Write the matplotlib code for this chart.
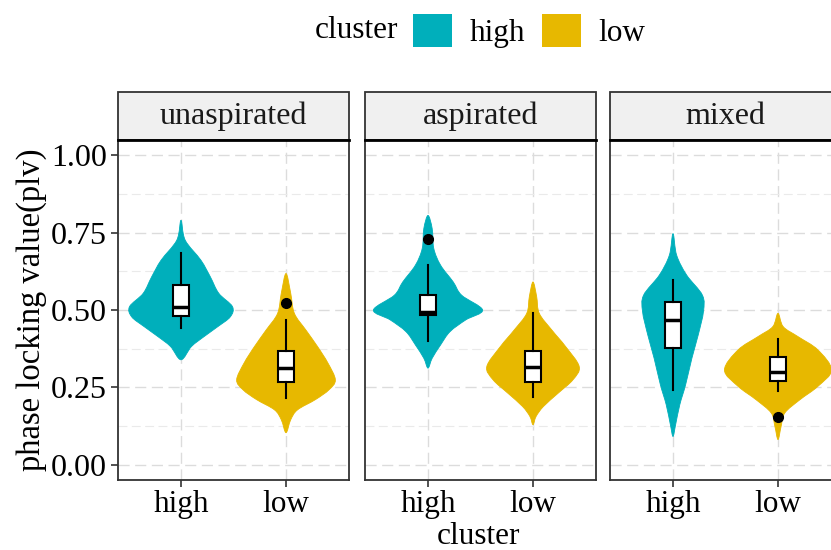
import matplotlib.pyplot as plt
from matplotlib.patches import Patch, Rectangle, PathPatch
from matplotlib.path import Path
import numpy as np

plt.rcParams['font.family'] = ['Liberation Serif', 'DejaVu Serif']

facets = ['unaspirated', 'aspirated', 'mixed']
clusters = ['high', 'low']
cluster_colors = ['#00AFBB', '#E7B800']
y_ticks = [0.0, 0.25, 0.5, 0.75, 1.0]
y_tick_labels = ['0.00', '0.25', '0.50', '0.75', '1.00']

# violin outlines: plv level and half width of the density at that level
unasp_high_y = [0.790, 0.726, 0.661, 0.607, 0.554, 0.511, 0.478, 0.446, 0.414, 0.382, 0.339]
unasp_high_w = [0.0, 0.04, 0.19, 0.28, 0.36, 0.49, 0.47, 0.35, 0.22, 0.10, 0.0]
unasp_low_y = [0.618, 0.554, 0.489, 0.435, 0.382, 0.328, 0.274, 0.242, 0.210, 0.177, 0.145, 0.103]
unasp_low_w = [0.0, 0.045, 0.08, 0.19, 0.30, 0.40, 0.47, 0.41, 0.28, 0.11, 0.045, 0.0]
asp_high_y = [0.806, 0.763, 0.699, 0.645, 0.591, 0.548, 0.500, 0.468, 0.430, 0.387, 0.344, 0.312]
asp_high_w = [0.0, 0.04, 0.055, 0.12, 0.24, 0.32, 0.52, 0.36, 0.21, 0.12, 0.04, 0.0]
asp_low_y = [0.591, 0.543, 0.489, 0.435, 0.382, 0.317, 0.274, 0.231, 0.188, 0.156, 0.129]
asp_low_w = [0.0, 0.035, 0.06, 0.18, 0.31, 0.44, 0.38, 0.24, 0.10, 0.03, 0.0]
mixed_high_y = [0.747, 0.677, 0.613, 0.548, 0.495, 0.419, 0.344, 0.258, 0.194, 0.129, 0.091]
mixed_high_w = [0.0, 0.035, 0.13, 0.28, 0.29, 0.24, 0.18, 0.12, 0.065, 0.025, 0.0]
mixed_low_y = [0.489, 0.446, 0.414, 0.371, 0.306, 0.253, 0.210, 0.167, 0.124, 0.081]
mixed_low_w = [0.0, 0.05, 0.19, 0.38, 0.51, 0.38, 0.21, 0.065, 0.03, 0.0]

# boxplot summaries: lower whisker, q1, median, q3, upper whisker, outliers
unasp_box = [[0.441, 0.481, 0.509, 0.580, 0.685, []],
             [0.216, 0.266, 0.312, 0.366, 0.468, [0.522]]]
asp_box = [[0.399, 0.484, 0.495, 0.548, 0.645, [0.731]],
           [0.220, 0.266, 0.317, 0.366, 0.489, []]]
mixed_box = [[0.242, 0.377, 0.468, 0.527, 0.597, []],
             [0.237, 0.271, 0.301, 0.347, 0.405, [0.153]]]

violins = [[(unasp_high_y, unasp_high_w), (unasp_low_y, unasp_low_w)],
           [(asp_high_y, asp_high_w), (asp_low_y, asp_low_w)],
           [(mixed_high_y, mixed_high_w), (mixed_low_y, mixed_low_w)]]
boxes = [unasp_box, asp_box, mixed_box]


def violin_path(pos, ys, ws):
    # closed outline through the given points, drawn with smooth bezier segments
    pts = [(pos + w, y) for y, w in zip(ys, ws)]
    pts += [(pos - w, y) for y, w in zip(ys[::-1][1:-1], ws[::-1][1:-1])]
    pts = np.array(pts)
    n = len(pts)
    verts = [pts[0]]
    codes = [Path.MOVETO]
    for k in range(n):
        p0, p1, p2, p3 = pts[(k - 1) % n], pts[k], pts[(k + 1) % n], pts[(k + 2) % n]
        verts += [p1 + (p2 - p0) / 6, p2 - (p3 - p1) / 6, p2]
        codes += [Path.CURVE4] * 3
    return Path(verts, codes)


W, H = 831, 550
fig = plt.figure(figsize=(W / 100, H / 100), dpi=100)

panel_left = [118, 365, 610]
panel_w, panel_bottom, panel_h = 231, 70, 340
strip_h = 48

for i, facet in enumerate(facets):
    ax = fig.add_axes([panel_left[i] / W, panel_bottom / H, panel_w / W, panel_h / H])

    # violins
    for j, (ys, ws) in enumerate(violins[i]):
        ax.add_patch(PathPatch(violin_path(j + 1, ys, ws), facecolor=cluster_colors[j],
                               edgecolor=cluster_colors[j], linewidth=0.6, zorder=2))

    # boxplots on top
    stats = []
    for b in boxes[i]:
        stats.append({'whislo': b[0], 'q1': b[1], 'med': b[2], 'q3': b[3],
                      'whishi': b[4], 'fliers': b[5]})
    ax.bxp(stats, positions=[1, 2], widths=0.15, patch_artist=True, showcaps=False,
           boxprops=dict(facecolor='white', edgecolor='black', linewidth=1.5),
           medianprops=dict(color='black', linewidth=2.5),
           whiskerprops=dict(color='black', linewidth=1.5),
           flierprops=dict(marker='o', markerfacecolor='black', markeredgecolor='black',
                           markersize=7),
           zorder=3)

    ax.set_xlim(0.4, 2.6)
    ax.set_ylim(-0.05, 1.05)
    ax.set_xticks([1, 2])
    ax.set_xticklabels(clusters)
    ax.set_yticks(y_ticks)
    ax.set_yticks([0.125, 0.375, 0.625, 0.875], minor=True)
    ax.grid(which='major', linestyle=(0, (8, 4)), color='#DCDCDC', linewidth=1, zorder=0)
    ax.grid(which='minor', axis='y', linestyle=(0, (8, 4)), color='#EAEAEA', linewidth=0.8, zorder=0)
    ax.set_axisbelow(True)

    ax.tick_params(axis='x', labelsize=22.5, length=5, width=1.2, color='#333333', pad=2)
    ax.tick_params(which='minor', length=0)
    if i == 0:
        ax.set_yticklabels(y_tick_labels)
        ax.tick_params(axis='y', labelsize=23, length=5, width=1.2, color='#333333', pad=3)
        ax.set_ylabel('phase locking value(plv)', fontsize=23.5, labelpad=3)
    else:
        ax.tick_params(axis='y', length=0, labelleft=False)

    for side in ['left', 'right', 'bottom']:
        ax.spines[side].set_color('#333333')
        ax.spines[side].set_linewidth(1.3)
    ax.spines['top'].set_color('black')
    ax.spines['top'].set_linewidth(2)

    # facet strip
    sh = strip_h / panel_h
    ax.add_patch(Rectangle((0, 1), 1, sh, transform=ax.transAxes, clip_on=False,
                           facecolor='#F0F0F0', edgecolor='#333333', linewidth=1.3, zorder=1))
    ax.text(0.5, 1 + sh / 2, facet, transform=ax.transAxes, ha='center', va='center',
            fontsize=23, color='#1A1A1A')

fig.text(479 / W, 1 - 537 / H, 'cluster', ha='center', va='center', fontsize=22.5)

# legend across the top
fig.text(315 / W, 1 - 31 / H, 'cluster', ha='left', va='center', fontsize=22.5)
handles = [Patch(facecolor=c, edgecolor='none') for c in cluster_colors]
fig.legend(handles, clusters, loc='center left', bbox_to_anchor=(413 / W, 1 - 31 / H),
           ncol=2, frameon=False, fontsize=22.5, handlelength=1.25, handleheight=1.25,
           handletextpad=0.55, columnspacing=0.55, borderpad=0, borderaxespad=0)

plt.savefig('out.png', dpi=100)
plt.close()
